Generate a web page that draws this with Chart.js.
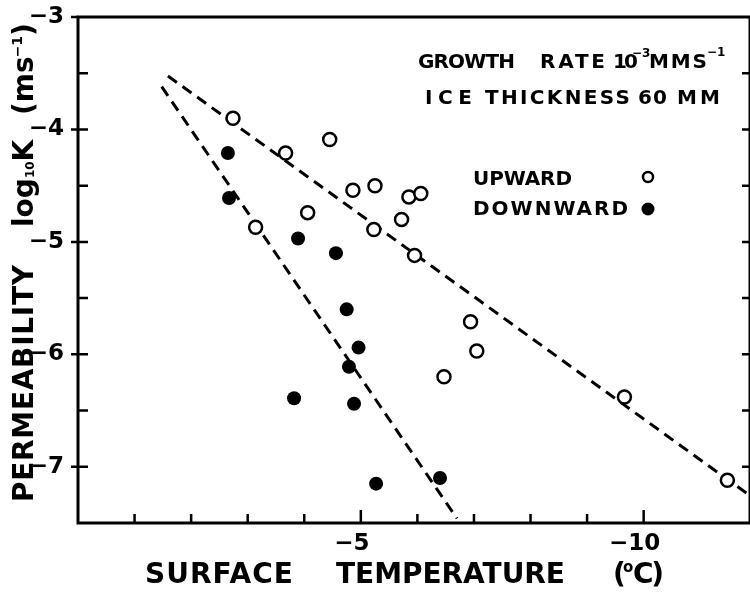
<!DOCTYPE html>
<html>
<head>
<meta charset="utf-8">
<script src="https://cdn.jsdelivr.net/npm/chart.js@4.4.1/dist/chart.umd.min.js"></script>
<style>
  html, body { margin: 0; padding: 0; background: #fff; overflow: hidden; }
  canvas { display: block; }
</style>
</head>
<body>
<canvas id="chart" width="750" height="593"></canvas>
<script>
// ─── data ───────────────────────────────────────────────
// surface temperature (°C) and log10 K (m s^-1)
const upTemp   = [-2.74, -3.67, -4.45, -4.86, -5.25, -5.85, -6.06, -4.06, -5.72, -3.14, -5.23, -5.95, -6.94, -7.05, -6.47, -9.66, -11.48];
const upLogK   = [-3.90, -4.21, -4.09, -4.54, -4.50, -4.60, -4.57, -4.74, -4.80, -4.87, -4.89, -5.12, -5.71, -5.97, -6.20, -6.38, -7.12];
const downTemp = [-2.65, -2.67, -3.89, -4.56, -4.75, -4.96, -4.79, -3.82, -4.88, -5.27, -6.40];
const downLogK = [-4.21, -4.61, -4.97, -5.10, -5.60, -5.94, -6.11, -6.39, -6.44, -7.15, -7.10];

// dashed fit lines (two ends each)
const upFitTemp   = [-1.59, -11.82];
const upFitLogK   = [-3.525, -7.235];
const downFitTemp = [-1.48, -6.70];
const downFitLogK = [-3.62, -7.46];

// tick labels
const xTickLabels = [-5, -10];
const yTickLabels = [-3, -4, -5, -6, -7];

const FONT = '"DejaVu Sans", "Liberation Sans", Arial, sans-serif';

function pts(xs, ys) { return xs.map((v, i) => ({ x: v, y: ys[i] })); }
function near(v, list) { return list.some(t => Math.abs(v - t) < 1e-6); }

// text stretched / squeezed to a given width with letter spacing
function fitText(ctx, text, x, y, width) {
  ctx.letterSpacing = '0px';
  const w = ctx.measureText(text).width;
  const ls = text.length > 1 ? (width - w) / (text.length - 1) : 0;
  ctx.letterSpacing = ls + 'px';
  ctx.fillText(text, x, y);
  ctx.letterSpacing = '0px';
}

// ─── frame, inward ticks, titles, legend ───────────────
const decor = {
  id: 'decor',
  afterDraw(chart) {
    const { ctx, chartArea: a, scales: { x, y } } = chart;
    ctx.save();
    ctx.strokeStyle = '#000';
    ctx.fillStyle = '#000';
    ctx.lineCap = 'butt';

    // box
    ctx.lineWidth = 3;
    ctx.beginPath();
    ctx.moveTo(a.left - 1.5, a.top);
    ctx.lineTo(a.right, a.top);
    ctx.lineTo(a.right, a.bottom);
    ctx.moveTo(a.left, a.top);
    ctx.lineTo(a.left, a.bottom + 1.5);
    ctx.moveTo(a.left - 1.5, a.bottom);
    ctx.lineTo(a.right, a.bottom);
    ctx.stroke();

    // y ticks every 0.5, inward both sides, outward at integers
    ctx.lineWidth = 2.5;
    ctx.beginPath();
    y.ticks.forEach(t => {
      const py = y.getPixelForValue(t.value);
      if (t.value > -7.4 && t.value < -3.1) {
        ctx.moveTo(a.left, py); ctx.lineTo(a.left + 10, py);
        ctx.moveTo(a.right - 8, py); ctx.lineTo(a.right, py);
      }
      if (near(t.value, yTickLabels)) {
        ctx.moveTo(a.left - 7, py); ctx.lineTo(a.left, py);
      }
    });
    // x ticks every degree, inward
    x.ticks.forEach(t => {
      const v = Math.round(t.value * 1e6) / 1e6;
      if (!Number.isInteger(v) || v === 0) return;
      const px = x.getPixelForValue(t.value);
      const len = near(v, xTickLabels) ? 13 : 9;
      ctx.moveTo(px, a.bottom); ctx.lineTo(px, a.bottom - len);
    });
    ctx.stroke();

    ctx.textBaseline = 'alphabetic';
    ctx.textAlign = 'left';

    // x title
    ctx.font = 'bold 28px ' + FONT;
    fitText(ctx, 'SURFACE', 145, 583, 148);
    fitText(ctx, 'TEMPERATURE', 336, 583, 229);
    ctx.fillText('(', 613, 583);
    ctx.font = 'bold 15px ' + FONT;
    ctx.fillText('o', 623, 572);
    ctx.font = 'bold 28px ' + FONT;
    fitText(ctx, 'C)', 633, 583, 31);

    // y title (rotated)
    ctx.save();
    ctx.translate(33, 0);
    ctx.rotate(-Math.PI / 2);
    ctx.font = 'bold 28px ' + FONT;
    fitText(ctx, 'PERMEABILITY', -502, 0, 237);
    ctx.fillText('log', -227, 0);
    let w = ctx.measureText('log').width;
    ctx.font = 'bold 12px ' + FONT;
    ctx.fillText('10', -227 + w, 1);
    let w2 = ctx.measureText('10').width;
    ctx.font = 'bold 28px ' + FONT;
    ctx.fillText('K', -227 + w + w2, 0);
    ctx.fillText('(ms', -115, 0);
    w = ctx.measureText('(ms').width;
    ctx.font = 'bold 14px ' + FONT;
    ctx.fillText('\u22121', -115 + w - 1, -11);
    w2 = ctx.measureText('\u22121').width;
    ctx.font = 'bold 28px ' + FONT;
    ctx.fillText(')', -115 + w + w2 - 1, 0);
    ctx.restore();

    // header
    ctx.font = 'bold 20px ' + FONT;
    fitText(ctx, 'GROWTH', 418, 68, 97);
    fitText(ctx, 'RATE', 540, 68, 65);
    fitText(ctx, '10', 613, 68, 25);
    ctx.font = 'bold 12px ' + FONT;
    ctx.fillText('\u22123', 632, 57);
    ctx.font = 'bold 20px ' + FONT;
    fitText(ctx, 'MMS', 649, 68, 58);
    ctx.font = 'bold 12px ' + FONT;
    ctx.fillText('\u22121', 707, 56);
    ctx.font = 'bold 20px ' + FONT;
    fitText(ctx, 'ICE', 425, 104, 47);
    fitText(ctx, 'THICKNESS', 485, 104, 145);
    fitText(ctx, '60', 638, 104, 29);
    fitText(ctx, 'MM', 677, 104, 43);

    // legend
    fitText(ctx, 'UPWARD', 473, 185, 99);
    fitText(ctx, 'DOWNWARD', 473, 215, 155);
    ctx.lineWidth = 2.5;
    ctx.beginPath();
    ctx.arc(648, 177, 5, 0, Math.PI * 2);
    ctx.fillStyle = '#fff';
    ctx.fill();
    ctx.stroke();
    ctx.fillStyle = '#000';
    ctx.beginPath();
    ctx.arc(648, 209, 6.5, 0, Math.PI * 2);
    ctx.fill();

    ctx.restore();
  }
};

new Chart(document.getElementById('chart'), {
  type: 'scatter',
  data: {
    datasets: [
      {
        label: 'UPWARD',
        data: pts(upTemp, upLogK),
        pointRadius: 6.5,
        pointBorderWidth: 2.5,
        pointBackgroundColor: '#fff',
        pointBorderColor: '#000'
      },
      {
        label: 'DOWNWARD',
        data: pts(downTemp, downLogK),
        pointRadius: 7,
        pointBorderWidth: 0,
        pointBackgroundColor: '#000',
        pointBorderColor: '#000'
      },
      {
        type: 'line',
        data: pts(upFitTemp, upFitLogK),
        showLine: true,
        borderColor: '#000',
        borderWidth: 3,
        borderDash: [11, 7],
        pointRadius: 0,
        fill: false
      },
      {
        type: 'line',
        data: pts(downFitTemp, downFitLogK),
        showLine: true,
        borderColor: '#000',
        borderWidth: 3,
        borderDash: [11, 7],
        pointRadius: 0,
        fill: false
      }
    ]
  },
  options: {
    responsive: false,
    animation: false,
    devicePixelRatio: 1,
    layout: { autoPadding: false, padding: { top: 17, right: 0, left: 0, bottom: 0 } },
    plugins: { legend: { display: false }, tooltip: { enabled: false } },
    scales: {
      x: {
        type: 'linear',
        reverse: true,
        min: -11.88,
        max: 0,
        afterFit(s) { s.height = 70; s.paddingLeft = 0; s.paddingRight = 0; },
        grid: { display: false },
        border: { display: false },
        ticks: {
          stepSize: 1,
          autoSkip: false,
          maxRotation: 0,
          padding: -1,
          labelOffset: -9,
          color: '#000',
          font: { family: FONT, size: 23, weight: 'bold' },
          callback: v => near(v, xTickLabels) ? '\u2212' + Math.abs(v) : ''
        }
      },
      y: {
        type: 'linear',
        min: -7.5,
        max: -3,
        afterFit(s) { s.width = 78; s.paddingTop = 0; s.paddingBottom = 0; },
        grid: { display: false },
        border: { display: false },
        ticks: {
          stepSize: 0.5,
          autoSkip: false,
          padding: 6,
          color: '#000',
          font: { family: FONT, size: 23, weight: 'bold' },
          callback: v => near(v, yTickLabels) ? '\u2212' + Math.abs(v) : ''
        }
      }
    }
  },
  plugins: [decor]
});
</script>
</body>
</html>
